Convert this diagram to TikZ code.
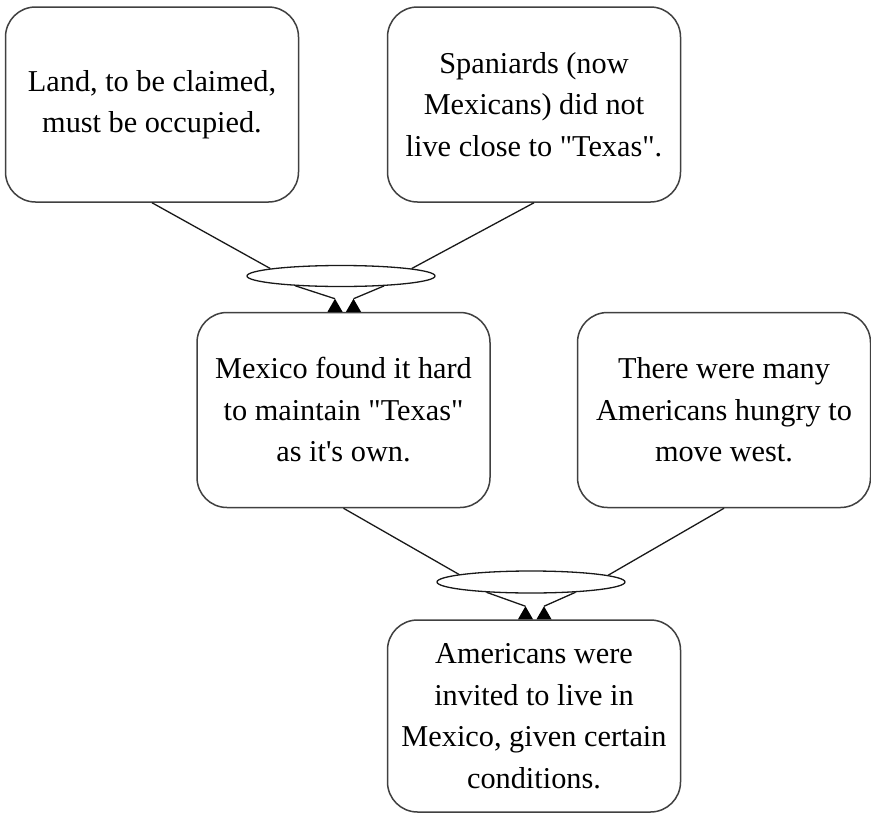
\documentclass[tikz,border=0pt]{standalone}
\usepackage{fontspec}
\setmainfont{Liberation Serif}[Ligatures=TeXOff]
\usetikzlibrary{shapes.geometric}
\begin{document}
\begin{tikzpicture}[x=1pt,y=-1pt,
  claim/.style={draw=black!75, line width=1.5pt, fill=white, rounded corners=30pt,
    minimum width=293pt, minimum height=195pt, inner sep=0pt,
    align=center, font=\fontsize{30.3}{41.5}\selectfont},
  joint/.style={draw=black!90, line width=1.3pt, fill=white, ellipse,
    minimum width=188pt, minimum height=21pt, inner sep=0pt},
  link/.style={draw=black!90, line width=1.3pt},
  headfill/.style={fill=black}
]
\useasboundingbox (0,0) rectangle (871,814);

\node[claim] (b1) at (152,104.5) {Land, to be claimed,\\must be occupied.};
\node[claim] (b2) at (534,104.5) {Spaniards (now\\Mexicans) did not\\live close to "Texas".};
\node[claim] (b3) at (343.5,410) {Mexico found it hard\\to maintain "Texas"\\as it's own.};
\node[claim] (b4) at (724,410) {There were many\\Americans hungry to\\move west.};
\node[claim, minimum height=192pt] (b5) at (534,716) {Americans were\\invited to live in\\Mexico, given certain\\conditions.};

\node[joint] (e1) at (341,276) {};
\node[joint, minimum height=22pt] (e2) at (531,582) {};

% first inference
\draw[link] (b1.south) -- (e1.174);
\draw[link] (b2.south) -- (e1.6);
\draw[link] (e1.192) -- ([shift={(-8.5,-13)}]b3.north) coordinate (h1);
\draw[link] (e1.347) -- ([shift={(10,-13)}]b3.north) coordinate (h2);
\fill[headfill] (h1) -- ++(-7.5,13) -- ++(15,0) -- cycle;
\fill[headfill] (h2) -- ++(-7.5,13) -- ++(15,0) -- cycle;

% second inference
\draw[link] (b3.south) -- (e2.174.5);
\draw[link] (b4.south) -- (e2.5);
\draw[link] (e2.193.5) -- ([shift={(-8.5,-13)}]b5.north) coordinate (h3);
\draw[link] (e2.347) -- ([shift={(10,-13)}]b5.north) coordinate (h4);
\fill[headfill] (h3) -- ++(-7.5,13) -- ++(15,0) -- cycle;
\fill[headfill] (h4) -- ++(-7.5,13) -- ++(15,0) -- cycle;
\end{tikzpicture}
\end{document}
